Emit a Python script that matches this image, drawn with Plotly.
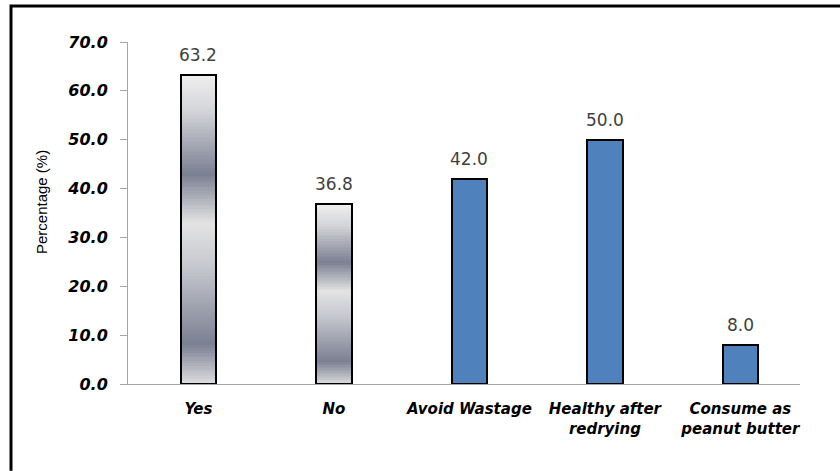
import plotly.graph_objects as go

# Survey responses (percent)
categories = ["Yes", "No", "Avoid Wastage", "Healthy after<br>redrying", "Consume as<br>peanut butter"]
values = [63.2, 36.8, 42.0, 50.0, 8.0]
chrome_bars = [True, True, False, False, False]  # silver-gradient fill vs. solid blue
y_ticks = [0, 10, 20, 30, 40, 50, 60, 70]

BLUE = "#4f81bd"
BAR_W = 0.26

# Silver "chrome" gradient stops, top (0) to bottom (1)
stops = [
    (0.00, (0xef, 0xef, 0xef)),
    (0.12, (0xd2, 0xd3, 0xd8)),
    (0.32, (0x7b, 0x80, 0x92)),
    (0.48, (0xe3, 0xe3, 0xe3)),
    (0.62, (0xc6, 0xc8, 0xce)),
    (0.87, (0x7b, 0x80, 0x92)),
    (1.00, (0xdd, 0xdd, 0xe0)),
]


def gradient_color(t):
    for (t0, c0), (t1, c1) in zip(stops[:-1], stops[1:]):
        if t0 <= t <= t1:
            f = (t - t0) / (t1 - t0) if t1 > t0 else 0
            r, g, b = (round(a + (b_ - a) * f) for a, b_ in zip(c0, c1))
            return f"rgb({r},{g},{b})"
    r, g, b = stops[-1][1]
    return f"rgb({r},{g},{b})"


fig = go.Figure()

N_SEG = 120
for cat, val, chrome in zip(categories, values, chrome_bars):
    if chrome:
        seg = val / N_SEG
        xs, ys, bases, cols = [], [], [], []
        for i in range(N_SEG):
            base = i * seg
            t = 1 - (base + seg / 2) / val  # 0 at top, 1 at bottom
            xs.append(cat)
            ys.append(seg * 1.02)
            bases.append(base)
            cols.append(gradient_color(t))
        fig.add_trace(go.Bar(
            x=xs, y=ys, base=bases, width=BAR_W,
            marker=dict(color=cols, line=dict(width=0)),
            hoverinfo="skip", showlegend=False,
        ))
        # outline
        fig.add_trace(go.Bar(
            x=[cat], y=[val], width=BAR_W,
            marker=dict(color="rgba(0,0,0,0)", line=dict(color="#000000", width=2)),
            showlegend=False,
        ))
    else:
        fig.add_trace(go.Bar(
            x=[cat], y=[val], width=BAR_W,
            marker=dict(color=BLUE, line=dict(color="#000000", width=2)),
            showlegend=False,
        ))

# Value labels above the bars
for cat, val in zip(categories, values):
    fig.add_annotation(
        x=cat, y=val, text=f"{val:.1f}", showarrow=False,
        yanchor="bottom", yshift=8,
        font=dict(family="DejaVu Sans", size=17, color="#404040"),
    )

# Y-axis title
fig.add_annotation(
    xref="paper", yref="paper", x=-0.1295, y=0.532,
    text="Percentage (%)", textangle=-90, showarrow=False,
    xanchor="center", yanchor="middle",
    font=dict(family="Liberation Sans", size=15, color="#000000"),
)

# Outer frame: top and left edges only
FX = -0.1741
FY = 1.105
fig.add_shape(type="path", xref="paper", yref="paper",
              path=f"M {FX},-0.254 L {FX},{FY} L 1.06,{FY}",
              line=dict(color="#000000", width=3), layer="above")

fig.update_layout(
    width=840, height=471,
    margin=dict(l=128, r=40, t=42, b=87),
    paper_bgcolor="white", plot_bgcolor="white",
    barmode="overlay", bargap=0,
    xaxis=dict(
        type="category", categoryorder="array", categoryarray=categories,
        range=[-0.52, 4.44],
        showline=True, linecolor="#a6a6a6", linewidth=1,
        ticks="", showgrid=False, zeroline=False,
        ticklabelstandoff=11,
        tickfont=dict(family="DejaVu Sans", size=15, color="#000000", weight="bold", style="italic"),
    ),
    yaxis=dict(
        range=[0, 70], tickvals=y_ticks, tickformat=".1f",
        showline=True, linecolor="#a6a6a6", linewidth=1,
        ticks="outside", ticklen=7, tickcolor="#a6a6a6",
        showgrid=False, zeroline=False,
        ticklabelstandoff=9,
        tickfont=dict(family="DejaVu Sans", size=16, color="#000000", weight="bold", style="italic"),
    ),
)

fig.write_html(
    "out.html",
    config={"displayModeBar": False},
    post_script="document.documentElement.style.overflow='hidden';document.body.style.overflow='hidden';",
)
